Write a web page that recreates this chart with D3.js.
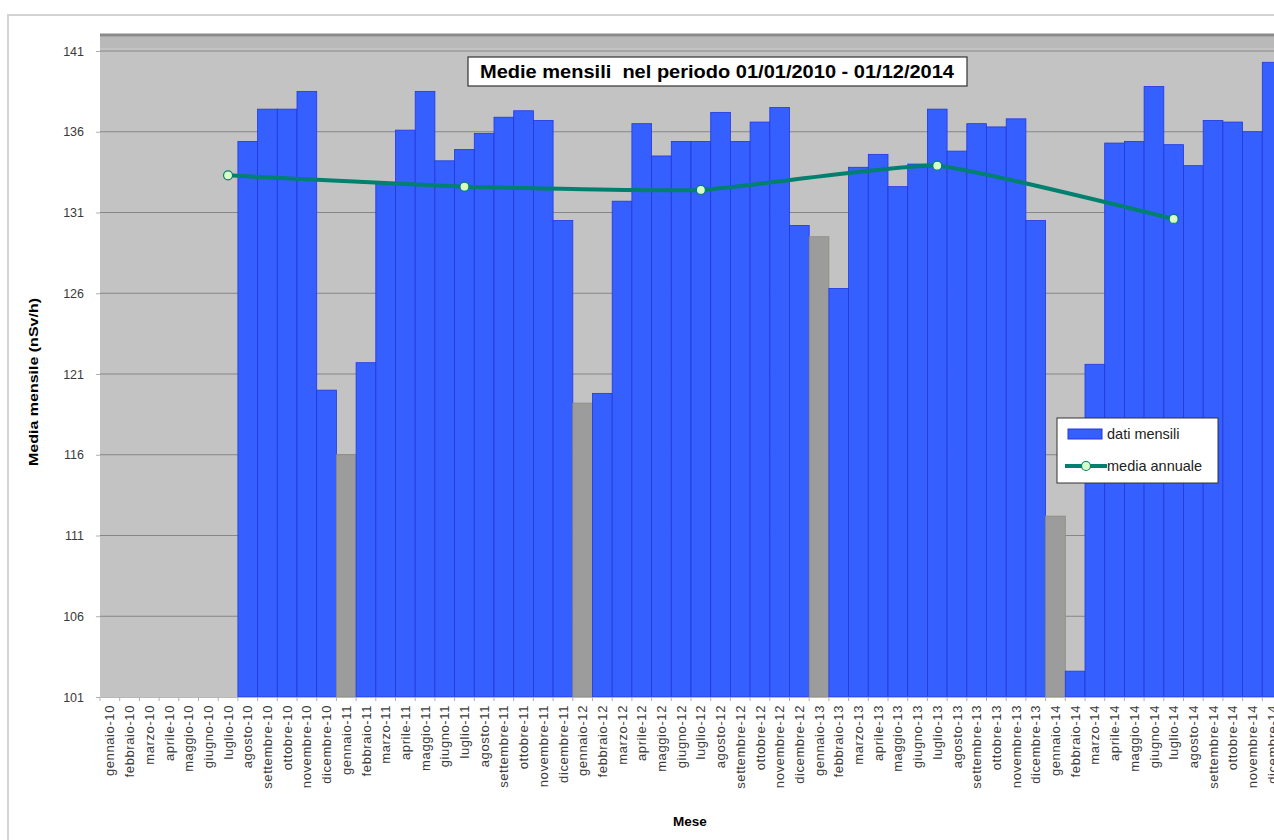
<!DOCTYPE html>
<html>
<head>
<meta charset="utf-8">
<script src="https://cdn.jsdelivr.net/npm/d3@7"></script>
<style>
  body { margin: 0; background: #fff; }
  svg { display: block; font-family: "Liberation Sans", Arial, sans-serif; }
</style>
</head>
<body>
<script>
const W = 1274, H = 840
const PLOT_LEFT = 100, PLOT_RIGHT = 1282, PLOT_TOP = 34, PLOT_BOTTOM = 697

// mesi (gennaio-10 ... dicembre-14)
const monthNames = ["gennaio","febbraio","marzo","aprile","maggio","giugno","luglio",
                    "agosto","settembre","ottobre","novembre","dicembre"]
const years = ["10","11","12","13","14"]
const months = years.flatMap(y => monthNames.map(m => m + "-" + y))

// dati mensili (nSv/h), null = nessun dato
const monthlyValues = [
  null, null, null, null, null, null, null, 135.4, 137.4, 137.4, 138.5, 120.0,
  116.0, 121.7, 132.8, 136.1, 138.5, 134.2, 134.9, 135.9, 136.9, 137.3, 136.7, 130.5,
  119.2, 119.8, 131.7, 136.5, 134.5, 135.4, 135.4, 137.2, 135.4, 136.6, 137.5, 130.2,
  129.5, 126.3, 133.8, 134.6, 132.6, 134.0, 137.4, 134.8, 136.5, 136.3, 136.8, 130.5,
  112.2, 102.6, 121.6, 135.3, 135.4, 138.8, 135.2, 133.9, 136.7, 136.6, 136.0, 140.3
]

// media annuale
const annualMonths = ["luglio-10", "luglio-11", "luglio-12", "luglio-13", "luglio-14"]
const annualValues = [133.3, 132.6, 132.4, 133.9, 130.6]

const yTicks = [101, 106, 111, 116, 121, 126, 131, 136, 141]

const titleText = "Medie mensili  nel periodo 01/01/2010 - 01/12/2014"
const yTitle = "Media mensile (nSv/h)"
const xTitle = "Mese"
const legendLabels = ["dati mensili", "media annuale"]

var svg = d3.select("body").append("svg")
    .attr("width", W)
    .attr("height", H)

// cornice esterna
svg.append("rect")
    .attr("x", 8).attr("y", 15)
    .attr("width", W + 20).attr("height", H)
    .attr("fill", "#fff")
    .attr("stroke", "#d4d4d4")
    .attr("stroke-width", 2)

var x = d3.scaleBand().domain(months).range([PLOT_LEFT, PLOT_RIGHT]).padding(0)
var y = d3.scaleLinear().domain([101, 141]).range([PLOT_BOTTOM, 51])

// area del grafico
svg.append("rect")
    .attr("x", PLOT_LEFT).attr("y", PLOT_TOP)
    .attr("width", PLOT_RIGHT - PLOT_LEFT).attr("height", PLOT_BOTTOM - PLOT_TOP)
    .attr("fill", "#c3c3c3")
svg.append("rect")
    .attr("x", PLOT_LEFT).attr("y", PLOT_TOP + 3)
    .attr("width", PLOT_RIGHT - PLOT_LEFT).attr("height", 11)
    .attr("fill", "#b9b9b9")
svg.append("line")
    .attr("x1", PLOT_LEFT).attr("x2", PLOT_RIGHT)
    .attr("y1", PLOT_TOP + 1).attr("y2", PLOT_TOP + 1)
    .attr("stroke", "#8a8a8a").attr("stroke-width", 3)

// griglia
svg.append("g").selectAll("line")
    .data(yTicks.slice(1))
    .join("line")
    .attr("x1", PLOT_LEFT).attr("x2", PLOT_RIGHT)
    .attr("y1", d => y(d)).attr("y2", d => y(d))
    .attr("stroke", "#868686").attr("stroke-width", 1.2)

// barre
var barData = months.map((m, i) => ({ month: m, value: monthlyValues[i] }))
    .filter(d => d.value !== null)

svg.append("g").selectAll("rect")
    .data(barData)
    .join("rect")
    .attr("x", d => x(d.month))
    .attr("y", d => y(d.value))
    .attr("width", x.bandwidth())
    .attr("height", d => y(101) - y(d.value))
    .attr("fill", d => d.month.startsWith("gennaio") ? "#9c9c9c" : "#3560ff")
    .attr("stroke", d => d.month.startsWith("gennaio") ? "#8c8c80" : "#2236e0")
    .attr("stroke-width", 0.8)

// linea media annuale
var lineData = annualMonths.map((m, i) => [x(m) + x.bandwidth() / 2, y(annualValues[i])])
svg.append("path")
    .datum(lineData)
    .attr("d", d3.line().curve(d3.curveCardinal.tension(0.6)))
    .attr("fill", "none")
    .attr("stroke", "#00806e")
    .attr("stroke-width", 4)

svg.append("g").selectAll("circle")
    .data(lineData)
    .join("circle")
    .attr("cx", d => d[0]).attr("cy", d => d[1])
    .attr("r", 4.5)
    .attr("fill", "#d8ffc8")
    .attr("stroke", "#00806e")
    .attr("stroke-width", 1.2)

// asse Y
var yAxis = svg.append("g")
    .attr("transform", "translate(" + PLOT_LEFT + ",0)")
    .call(d3.axisLeft(y).tickValues(yTicks).tickSize(4).tickPadding(12))
yAxis.select(".domain").remove()
yAxis.selectAll("line").attr("stroke", "#b0b0b0")
yAxis.selectAll("text").attr("fill", "#3a3a3a").style("font-size", "12.5px")

// asse X
var xAxis = svg.append("g")
    .attr("transform", "translate(0," + PLOT_BOTTOM + ")")
    .call(d3.axisBottom(x).tickSize(0))
xAxis.select(".domain").attr("stroke", "#b8b8b8")
xAxis.selectAll("text")
    .attr("transform", "rotate(-90)")
    .attr("text-anchor", "end")
    .attr("x", -8).attr("y", 0).attr("dy", "0.35em")
    .attr("fill", "#3a3a3a")
    .style("font-size", "13px")
    .style("letter-spacing", "0.6px")
svg.append("g").selectAll("line")
    .data(months)
    .join("line")
    .attr("x1", d => x(d)).attr("x2", d => x(d))
    .attr("y1", PLOT_BOTTOM).attr("y2", PLOT_BOTTOM + 4)
    .attr("stroke", "#b0b0b0")

// titoli assi
svg.append("text")
    .attr("transform", "translate(38,382) rotate(-90)")
    .attr("text-anchor", "middle")
    .style("font-size", "13.5px").style("font-weight", "bold")
    .attr("textLength", 168).attr("lengthAdjust", "spacingAndGlyphs")
    .text(yTitle)
svg.append("text")
    .attr("x", 690).attr("y", 826)
    .attr("text-anchor", "middle")
    .style("font-size", "13.5px").style("font-weight", "bold")
    .text(xTitle)

// titolo
var title = svg.append("g")
title.append("rect")
    .attr("x", 468).attr("y", 57).attr("width", 499).attr("height", 29)
    .attr("fill", "#fff").attr("stroke", "#333").attr("stroke-width", 1.2)
title.append("text")
    .attr("x", 717).attr("y", 78)
    .attr("text-anchor", "middle")
    .attr("xml:space", "preserve")
    .style("white-space", "pre")
    .style("font-size", "18px").style("font-weight", "bold")
    .attr("textLength", 474).attr("lengthAdjust", "spacingAndGlyphs")
    .text(titleText)

// legenda
var legend = svg.append("g").attr("transform", "translate(1057,418)")
legend.append("rect")
    .attr("width", 161).attr("height", 65)
    .attr("fill", "#fff").attr("stroke", "#333").attr("stroke-width", 1)
legend.append("rect")
    .attr("x", 11).attr("y", 11).attr("width", 34).attr("height", 10)
    .attr("fill", "#3560ff").attr("stroke", "#2236e0")
legend.append("line")
    .attr("x1", 8).attr("x2", 50).attr("y1", 48).attr("y2", 48)
    .attr("stroke", "#00806e").attr("stroke-width", 4)
legend.append("circle")
    .attr("cx", 29).attr("cy", 48).attr("r", 4.5)
    .attr("fill", "#d8ffc8").attr("stroke", "#00806e").attr("stroke-width", 1.2)
legend.selectAll("text")
    .data(legendLabels)
    .join("text")
    .attr("x", 50).attr("y", (d, i) => 21 + i * 32)
    .style("font-size", "14.5px").attr("fill", "#222")
    .text(d => d)
</script>
</body>
</html>
